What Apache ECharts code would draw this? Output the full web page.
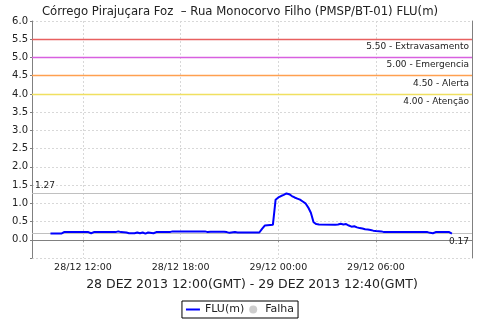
<!DOCTYPE html>
<html><head><meta charset="utf-8">
<script src="https://cdn.jsdelivr.net/npm/echarts@6/dist/echarts.min.js"></script>
<style>html,body{margin:0;padding:0;background:#fff}#c{width:480px;height:320px}</style>
</head><body><div id="c"></div>
<script>
const times = ["2013-12-28 10:00","2013-12-28 10:40","2013-12-28 10:50","2013-12-28 12:20","2013-12-28 12:30","2013-12-28 12:40","2013-12-28 14:00","2013-12-28 14:10","2013-12-28 14:20","2013-12-28 14:40","2013-12-28 14:50","2013-12-28 15:10","2013-12-28 15:20","2013-12-28 15:30","2013-12-28 15:40","2013-12-28 15:50","2013-12-28 16:00","2013-12-28 16:20","2013-12-28 16:30","2013-12-28 17:20","2013-12-28 17:30","2013-12-28 19:30","2013-12-28 19:40","2013-12-28 19:50","2013-12-28 20:40","2013-12-28 20:50","2013-12-28 21:00","2013-12-28 21:20","2013-12-28 21:30","2013-12-28 22:50","2013-12-28 23:00","2013-12-28 23:10","2013-12-28 23:40","2013-12-28 23:50","2013-12-29 00:00","2013-12-29 00:10","2013-12-29 00:20","2013-12-29 00:30","2013-12-29 00:40","2013-12-29 00:50","2013-12-29 01:00","2013-12-29 01:10","2013-12-29 01:20","2013-12-29 01:30","2013-12-29 01:40","2013-12-29 01:50","2013-12-29 02:00","2013-12-29 02:10","2013-12-29 02:20","2013-12-29 02:30","2013-12-29 03:30","2013-12-29 03:40","2013-12-29 03:50","2013-12-29 04:00","2013-12-29 04:10","2013-12-29 04:20","2013-12-29 04:30","2013-12-29 04:40","2013-12-29 04:50","2013-12-29 05:00","2013-12-29 05:10","2013-12-29 05:20","2013-12-29 05:30","2013-12-29 05:40","2013-12-29 05:50","2013-12-29 06:00","2013-12-29 06:20","2013-12-29 06:30","2013-12-29 09:10","2013-12-29 09:20","2013-12-29 09:30","2013-12-29 09:40","2013-12-29 10:30","2013-12-29 10:40"];
const flu = [0.17,0.17,0.21,0.21,0.18,0.21,0.21,0.23,0.21,0.20,0.18,0.18,0.20,0.18,0.20,0.17,0.20,0.18,0.21,0.21,0.23,0.23,0.21,0.22,0.22,0.21,0.19,0.21,0.20,0.20,0.30,0.39,0.41,1.10,1.16,1.20,1.23,1.27,1.25,1.20,1.16,1.13,1.10,1.05,1.00,0.89,0.74,0.48,0.43,0.42,0.41,0.42,0.44,0.42,0.43,0.39,0.36,0.37,0.34,0.32,0.31,0.29,0.28,0.27,0.25,0.24,0.23,0.21,0.21,0.19,0.18,0.21,0.21,0.17];
const thresholdValues = [5.5, 5.0, 4.5, 4.0];
const thresholdLabels = ["5.50 - Extravasamento", "5.00 - Emergencia", "4.50 - Alerta", "4.00 - Atenção"];
const thresholdColors = ["#e86060", "#d860e0", "#ffa050", "#f0e060"];
const maxValue = 1.27, lastValue = 0.17;
const xRange = ["2013-12-28 08:52", "2013-12-29 11:54"];
const titleText = "Córrego Pirajuçara Foz  – Rua Monocorvo Filho (PMSP/BT-01) FLU(m)";
const subtitleText = "28 DEZ 2013 12:00(GMT) - 29 DEZ 2013 12:40(GMT)";

function ts(s){const [d,t]=s.split(' ');const [Y,M,D]=d.split('-').map(Number);const [h,m]=t.split(':').map(Number);return Date.UTC(Y,M-1,D,h,m);}
const p2=n=>String(n).padStart(2,'0');
const FONT = 'DejaVu Sans';

function refLine(v, color, text, pos, dist, w){
  return {type:'line',data:[],silent:true,z:3,
    markLine:{silent:true,symbol:'none',animation:false,
      lineStyle:{color:color,width:w,type:'solid',opacity:1},
      emphasis:{disabled:true},
      label:{show:true,position:pos,formatter:text,color:'#222',fontSize:9,fontFamily:FONT,distance:dist},
      data:[{yAxis:v}]}};
}
const extraSeries = thresholdValues.map((v,i)=>refLine(v,thresholdColors[i],thresholdLabels[i],'insideEndBottom',[3,3],1.3));
extraSeries.push(refLine(maxValue,'#c0c0c0',maxValue.toFixed(2),'insideStartTop',[3,3],1));
extraSeries.push(refLine(lastValue,'#c0c0c0',lastValue.toFixed(2),'insideEndBottom',[3,4],1));

const lineIcon = 'path://M0,0H0.01V0.01H0Z M0,3H14V5H0Z M0,8H0.01V8.01H0Z';

const chart = echarts.init(document.getElementById('c'),null,{renderer:'canvas'});
chart.setOption({
  useUTC:true,
  animation:false,
  backgroundColor:'#fff',
  title:{text:titleText,left:'center',top:1,textStyle:{fontFamily:FONT,fontSize:11.7,fontWeight:'normal',color:'#222'}},
  grid:{left:32,right:8,top:21,bottom:62},
  legend:{bottom:2,left:'center',borderColor:'#000',borderWidth:1,borderRadius:0,padding:[3,4],itemGap:5,itemWidth:14,itemHeight:8,
    textStyle:{fontFamily:FONT,fontSize:11,color:'#222'},
    data:[{name:'FLU(m)',icon:lineIcon,itemStyle:{color:'#0000ff'}},{name:'Falha',icon:'circle'}]},
  xAxis:{type:'time',min:ts(xRange[0]),max:ts(xRange[1]),splitNumber:4,
    name:subtitleText,nameLocation:'middle',nameGap:20,nameTextStyle:{fontFamily:FONT,fontSize:12.5,color:'#222'},
    axisLine:{lineStyle:{color:'#808080'}},axisTick:{show:true,length:2,lineStyle:{color:'#808080'}},
    axisLabel:{fontFamily:FONT,fontSize:9.5,color:'#222',margin:5,hideOverlap:false,
      formatter:v=>{const d=new Date(v);return p2(d.getUTCDate())+'/'+p2(d.getUTCMonth()+1)+' '+p2(d.getUTCHours())+':'+p2(d.getUTCMinutes());}},
    splitLine:{show:true,lineStyle:{color:'#d8d8d8',type:[2,2]}}},
  yAxis:[{type:'value',min:-0.5,max:6.0,interval:0.5,
    axisLine:{show:true,lineStyle:{color:'#808080'}},axisTick:{show:true,length:2,lineStyle:{color:'#808080'}},
    axisLabel:{fontFamily:FONT,fontSize:10,color:'#222',margin:4,formatter:v=>v<0?'':v.toFixed(1)},
    splitLine:{show:true,lineStyle:{color:'#d8d8d8',type:[2,2]}}},
    {type:'value',position:'right',min:-0.5,max:6.0,interval:0.5,axisLine:{show:true,lineStyle:{color:'#808080'}},axisTick:{show:false},axisLabel:{show:false},splitLine:{show:false}}],
  series:[
    {name:'FLU(m)',type:'line',data:times.map((t,i)=>[ts(t),flu[i]]),showSymbol:false,symbol:'none',z:5,
      lineStyle:{color:'#0000ff',width:2},itemStyle:{color:'#0000ff'}},
    {name:'Falha',type:'scatter',data:[],itemStyle:{color:'#c0c0c0'}}
  ].concat(extraSeries)
});
</script></body></html>
